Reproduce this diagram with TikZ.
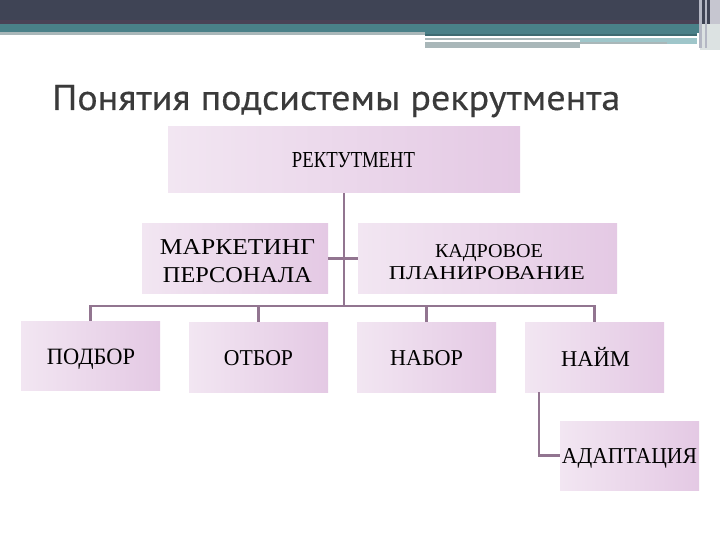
\documentclass[tikz,border=0pt]{standalone}
\usepackage{fontspec}
\setmainfont{Liberation Serif}
\newfontfamily\titlefont{PT Sans}[BoldFont={PT Sans}, BoldFeatures={FakeBold=0.4}]
\usepackage{graphicx}
\definecolor{barDark}{HTML}{3F4455}
\definecolor{barPurp}{HTML}{4A4256}
\definecolor{barTeal}{HTML}{4A8088}
\definecolor{tealDark}{HTML}{3E6B72}
\definecolor{tealLight}{HTML}{9FC6CA}
\definecolor{lineGray}{HTML}{A9B7B9}
\definecolor{edgeA}{HTML}{B4B7C4}
\definecolor{edgeB}{HTML}{C6C6D0}
\definecolor{edgeC}{HTML}{DCE2E2}
\definecolor{conn}{HTML}{927590}
\definecolor{boxL}{HTML}{F2E6F2}
\definecolor{boxR}{HTML}{E4C9E4}
\definecolor{titleC}{HTML}{3A3A3A}
\newcommand{\fittext}[3]{\resizebox{#1pt}{#2pt}{#3}}
\tikzset{
  box/.style={rectangle, draw=none, inner sep=0pt, left color=boxL, right color=boxR},
  conline/.style={draw=conn, line width=2.2pt},
  lbl/.style={inner sep=0pt, anchor=base, text=black}
}
\begin{document}
\begin{tikzpicture}[x=1pt,y=-1pt]
\useasboundingbox (0,0) rectangle (720,540);
\fill[white] (0,0) rectangle (720,540);
% top bar
\fill[barDark] (0,0) rectangle (720,24);
\fill[barPurp] (0,20) rectangle (700,24);
\fill[barTeal] (0,24) rectangle (700,33);
\fill[lineGray] (0,32) rectangle (425,35);
\fill[barTeal] (425,32) rectangle (697,34);
\fill[tealDark] (425,34) rectangle (697,36);
\fill[lineGray] (425,38.5) rectangle (670,40.5);
\fill[tealLight] (580,38) rectangle (697,44);
\fill[lineGray] (425,42) rectangle (667,44.5);
\fill[lineGray] (425,44.5) rectangle (580,48);
\fill[edgeC] (700,24) rectangle (720,50);
\fill[edgeA] (699,0) rectangle (702,48);
\fill[edgeA] (705,0) rectangle (707,48);
\fill[edgeB] (710,0) rectangle (720,24);
% title
\node[anchor=base west, inner sep=0pt, text=titleC] (title) at (52,110)
  {\fittext{568}{25}{\titlefont\bfseries Понятия подсистемы рекрутмента}};
% boxes
\node[box, minimum width=352pt, minimum height=66pt] (rec)    at (344,160) {};
\node[box, minimum width=186pt, minimum height=69pt] (mkt)    at (235,258.5) {};
\node[box, minimum width=259pt, minimum height=69pt] (kadr)   at (487.5,258.5) {};
\node[box, minimum width=139pt, minimum height=69pt] (podbor) at (90.5,355.5) {};
\node[box, minimum width=139pt, minimum height=70pt] (otbor)  at (258.5,357) {};
\node[box, minimum width=139pt, minimum height=70pt] (nabor)  at (426.5,357) {};
\node[box, minimum width=139pt, minimum height=70pt] (naim)   at (594.5,357) {};
\node[box, minimum width=139pt, minimum height=69pt] (adapt)  at (629.5,455.5) {};
% connectors
\coordinate (bus) at (344,306);
\draw[conline] (rec.south) -- (bus);
\draw[conline] (podbor.north) |- (bus);
\draw[conline] (naim.north) |- (bus);
\draw[conline] (otbor.north) -- (otbor.north |- bus);
\draw[conline] (nabor.north) -- (nabor.north |- bus);
\draw[conline] (mkt.east) -- (kadr.west);
\draw[conline] ([xshift=-55.5pt]naim.south) |- (adapt.west);
% labels
\node[lbl] (recT)  at (353.5,168) {\fittext{123}{15}{РЕКТУТМЕНТ}};
\node[lbl] (mktA)  at (237.5,254) {\fittext{155}{15}{МАРКЕТИНГ}};
\node[lbl] (mktB)  at (237.5,282) {\fittext{149}{15}{ПЕРСОНАЛА}};
\node[lbl] (kadrA) at (489,257) {\fittext{108}{13}{КАДРОВОЕ}};
\node[lbl] (kadrB) at (487,279) {\fittext{196}{13}{ПЛАНИРОВАНИЕ}};
\node[lbl] (podT)  at (91,364) {\fittext{88}{15.5}{ПОДБОР}};
\node[lbl] (otbT)  at (258.5,365) {\fittext{69}{15}{ОТБОР}};
\node[lbl] (nabT)  at (426.5,365) {\fittext{73}{15}{НАБОР}};
\node[lbl] (naimT) at (595.5,366) {\resizebox{69pt}{!}{НАЙМ}};
\node[lbl] (adT)   at (629.5,463) {\fittext{135}{15}{АДАПТАЦИЯ}};
\end{tikzpicture}
\end{document}
